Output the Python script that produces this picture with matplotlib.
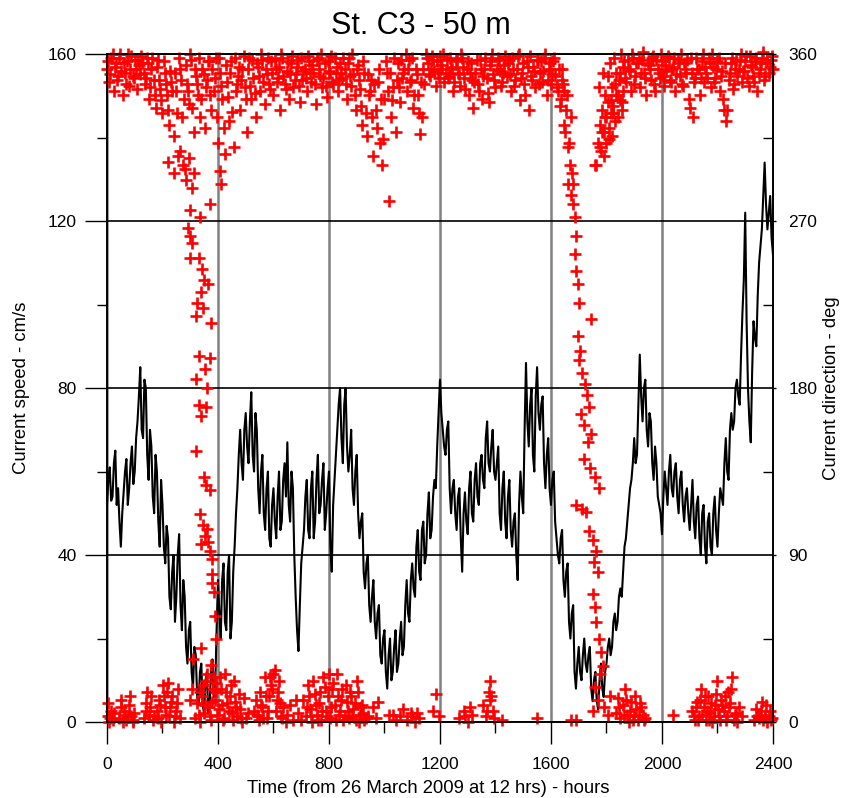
import numpy as np
import matplotlib.pyplot as plt
from matplotlib.ticker import FixedLocator

plt.rcParams['font.family'] = ['Liberation Sans', 'DejaVu Sans']

# current speed (cm/s) at 0, 10, 20 ... hours
speed_hours = np.arange(0, 2401, 10)
speed = [
    52, 61, 54, 65, 56, 42, 55, 63, 56, 66,
    60, 72, 85, 68, 80, 58, 66, 50, 60, 42,
    52, 38, 44, 27, 40, 30, 45, 22, 30, 14,
    24, 8, 16, 4, 14, 2, 12, 4, 15, 8,
    34, 20, 38, 22, 40, 24, 42, 56, 70, 58,
    74, 62, 79, 60, 70, 50, 64, 46, 60, 42,
    56, 44, 60, 48, 62, 67, 48, 56, 30, 17,
    38, 46, 58, 44, 60, 48, 64, 52, 62, 50,
    60, 36, 58, 70, 80, 62, 80, 60, 70, 52,
    64, 44, 50, 32, 40, 24, 34, 20, 28, 14,
    22, 8, 20, 12, 22, 14, 24, 18, 34, 24,
    38, 30, 46, 34, 48, 40, 55, 46, 58, 66,
    82, 70, 64, 72, 50, 58, 46, 56, 36, 55,
    45, 60, 48, 62, 52, 64, 56, 72, 60, 70,
    58, 66, 46, 60, 44, 58, 42, 50, 34, 60,
    50, 86, 66, 80, 60, 85, 70, 78, 56, 68,
    52, 60, 44, 38, 46, 30, 38, 20, 28, 8,
    18, 10, 20, 12, 18, 5, 12, 3, 14, 6,
    14, 20, 18, 26, 24, 32, 36, 44, 52, 58,
    68, 64, 88, 72, 82, 66, 72, 58, 62, 52,
    45, 60, 52, 64, 54, 62, 50, 60, 48, 56,
    46, 58, 44, 54, 40, 52, 38, 50, 40, 54,
    42, 56, 52, 68, 58, 74, 72, 82, 76, 98,
    122, 80, 67, 96, 90, 110, 118, 134, 118, 126,
    112,
]
# and at 5, 15, 25 ... hours
speed_hours_mid = np.arange(5, 2400, 10)
speed_mid = [
    58, 53, 62, 52, 48, 50, 60, 52, 62, 57,
    68, 78, 70, 82, 64, 70, 54, 64, 48, 58,
    42, 47, 30, 36, 24, 40, 28, 34, 18, 22,
    12, 18, 6, 12, 4, 10, 2, 12, 6, 22,
    26, 34, 24, 36, 20, 36, 50, 64, 62, 70,
    66, 72, 64, 74, 56, 60, 50, 56, 44, 52,
    48, 54, 46, 58, 54, 52, 60, 40, 22, 28,
    42, 54, 46, 56, 44, 58, 50, 58, 46, 56,
    42, 52, 64, 76, 68, 76, 66, 64, 56, 60,
    50, 48, 36, 38, 28, 30, 24, 26, 16, 20,
    12, 16, 10, 18, 12, 20, 16, 28, 26, 34,
    32, 42, 36, 46, 38, 50, 44, 54, 56, 74,
    74, 66, 70, 56, 56, 50, 54, 44, 50, 48,
    56, 50, 58, 54, 62, 58, 68, 62, 66, 60,
    62, 50, 56, 48, 54, 46, 48, 40, 52, 54,
    70, 72, 76, 64, 78, 74, 76, 62, 64, 56,
    58, 48, 40, 44, 34, 36, 24, 26, 12, 14,
    12, 16, 14, 16, 8, 10, 5, 10, 8, 12,
    18, 16, 24, 22, 30, 30, 42, 48, 56, 62,
    62, 76, 78, 80, 70, 74, 62, 66, 54, 50,
    54, 56, 60, 56, 60, 54, 58, 52, 54, 50,
    52, 48, 52, 44, 50, 42, 48, 42, 50, 46,
    50, 54, 62, 60, 70, 70, 80, 78, 88, 106,
    96, 72, 84, 92, 102, 114, 126, 124, 122, 116,
]

# direction near north (deg), at 0, 8, 16 ... hours
nan = np.nan
north_hours = np.arange(0, 2401, 8)
north_deg = [
    352, 345, 358, 340, 355, 348, 360, 338, 350, 356, 343, 359, 347, 352, 357,
    349, 355, 344, 358, 336, 352, 346, 331, 357, 341, 328, 350, 338, 322, 345,
    316, 340, 305, 352, 326, 298, 344, 333, 357, 318, 348, 338, 326, 352, 320,
    346, 356, 330, 340, 358, 312, 350, 336, 306, 345, 324, 356, 310, 340, 348,
    330, 352, 342, 318, 358, 336, 347, 326, 353, 340, 357, 333, 349, 344, 356,
    338, 352, 347, 330, 358, 344, 351, 336, 355, 342, 349, 357, 334, 346, 352,
    340, 356, 345, 350, 333, 358, 348, 342, 355, 337, 351, 359, 344, 350, 340,
    355, 347, 352, 336, 358, 343, 349, 330, 354, 341, 322, 350, 316, 338, 346,
    305, 330, 345, 312, 300, 336, 350, 281, 326, 342, 318, 355, 334, 347, 352,
    340, 357, 346, 331, 352, 338, 317, 326, 344, 358, 349, 352, 357, 343, 350,
    359, 352, 345, 357, 348, 353, 340, 356, 350, 343, 358, 347, 352, 338, 355,
    331, 350, 344, 357, 336, 352, 347, 334, 356, 349, 342, 358, 351, 345, 354,
    348, 357, 340, 352, 346, 359, 335, 350, 344, 356, 330, 348, 353, 342, 357,
    350, 345, 358, 338, 352, 344, 356, 348, 340, 332, 346, 322, 338, 312, 326,
    290, nan, nan, nan, nan, nan, nan, nan, nan, nan, 300, nan, 310, 318, 305,
    326, 314, 335, 328, 344, 338, 350, 334, 356, 345, 352, 340, 358, 348, 355,
    342, 357, 350, 338, 354, 346, 359, 340, 352, 347, 356, 343, 351, 358, 345,
    353, 340, 357, 348, 344, 355, 350, 336, 358, 326, 347, 352, 338, 356, 345,
    350, 358, 342, 353, 347, 356, 340, 351, 330, 324, 346, 355, 341, 352, 348,
    357, 345, 351, 359, 343, 354, 348, 356, 340, 352, 358, 346, 355, 350, 357,
    352,
]
# and at 4, 12, 20 ... hours
north_hours_mid = np.arange(4, 2400, 8)
north_deg_mid = [
    356, 349, 360, 353, 346, 358, 351, 355, 344, 360, 352, 348, 357, 341, 354,
    359, 350, 347, 355, 342, 358, 338, 353, 346, 335, 356, 344, 330, 351, 340,
    350, 328, 358, 346, 336, 354, 340, 360, 331, 352, 344, 358, 336, 349, 342,
    356, 338, 352, 347, 326, 358, 343, 320, 354, 337, 350, 329, 358, 344, 353,
    346, 359, 336, 352, 343, 357, 339, 355, 348, 360, 345, 352, 358, 341, 350,
    357, 345, 353, 360, 348, 341, 356, 350, 359, 346, 353, 343, 358, 351, 347,
    359, 350, 354, 344, 357, 352, 360, 347, 343, 356, 350, 345, 358, 353, 346,
    350, 358, 344, 355, 348, 360, 338, 352, 346, 332, 356, 328, 349, 340, 326,
    344, 320, 352, 336, 314, 356, 340, 350, 335, 358, 346, 342, 357, 350, 360,
    352, 345, 358, 338, 349, 328, 345, 352, 360, 355, 348, 359, 351, 356, 347,
    354, 360, 350, 347, 358, 352, 345, 357, 349, 360, 353, 341, 356, 350, 346,
    345, 357, 340, 352, 348, 358, 339, 354, 360, 346, 352, 357, 343, 350, 359,
    355, 349, 358, 343, 352, 360, 347, 355, 338, 353, 359, 346, 351, 357, 344,
    356, 351, 360, 346, 355, 349, 358, 342, 352, 336, 344, nan, nan, nan, nan,
    nan, nan, nan, nan, nan, nan, nan, nan, nan, nan, nan, 342, nan, 350, 338,
    348, 355, 342, 358, 350, 346, 360, 353, 347, 357, 351, 360, 344, 355, 358,
    350, 361, 347, 355, 352, 358, 344, 357, 350, 360, 348, 354, 359, 346, 352,
    358, 349, 355, 360, 343, 352, 357, 331, 350, 345, 358, 352, 347, 360, 353,
    347, 355, 360, 345, 352, 358, 348, 336, 355, 330, 350, 358, 344, 356, 352,
    360, 351, 356, 347, 359, 353, 345, 358, 350, 355, 361, 348, 357, 353, 359,
]

# first veering (around 200-400 h)
veer1_hours = [220, 240, 262, 275, 285, 295, 305, 315, 300, 292, 300, 308, 298, 335,
               372, 408, 412, 330, 342, 350, 338, 365, 325, 345, 320, 376, 333, 372,
               352, 320, 362, 330, 356, 340, 322, 350, 358, 370, 336, 345, 360, 352,
               365, 340, 372, 378, 380, 378, 385, 390, 392, 310, 340, 376, 334, 394]
veer1_deg = [302, 296, 308, 300, 292, 304, 288, 296, 276, 266, 262, 258, 250, 272,
             279, 297, 290, 250, 244, 238, 232, 236, 226, 223, 219, 215, 197, 196,
             190, 185, 180, 171, 170, 165, 146, 132, 128, 125, 112, 106, 104, 100,
             97, 96, 92, 88, 80, 75, 70, 57, 45, 34, 40, 31, 16, 21]

# second veering (around 1600-1860 h)
veer2_hours = [1640, 1648, 1655, 1650, 1660, 1668, 1675, 1662, 1672, 1680, 1685, 1690,
               1688, 1692, 1698, 1702, 1746, 1696, 1704, 1700, 1712, 1722, 1730, 1738,
               1710, 1720, 1745, 1732, 1718, 1740, 1760, 1772, 1690, 1712, 1728, 1738,
               1750, 1762, 1755, 1768, 1750, 1760, 1764, 1772, 1780, 1786, 1775, 1760,
               1770, 1790, 1805, 1812, 1752,
               1762, 1770, 1775, 1780, 1785, 1790, 1795, 1800, 1805, 1810, 1815, 1820,
               1825, 1830, 1835, 1840, 1848, 1855, 1860]
veer2_deg = [352, 340, 330, 318, 310, 300, 296, 290, 284, 279, 272, 262,
             252, 243, 236, 226, 217, 208, 200, 195, 188, 182, 176, 170,
             166, 160, 155, 151, 142, 137, 132, 126, 117, 115, 113, 103,
             98, 92, 86, 81, 69, 62, 54, 45, 38, 30, 26, 19,
             12, 8, 4, 14, 6,
             300, 312, 322, 308, 330, 318, 326, 312, 334, 320, 328, 316,
             332, 324, 338, 326, 335, 330, 340]

# direction just east of north (deg)
east_hours = [2, 8, 14, 20, 45, 52, 58, 64, 70, 78, 86, 92, 98,
              135, 142, 150, 158, 165, 180, 188, 195, 202, 210, 216, 224, 232, 240, 248, 256, 264,
              318, 326, 334, 342, 350, 358, 366, 374, 382, 390, 398, 406, 414, 422, 430, 438,
              446, 454, 462, 470, 478, 486, 494, 502, 510,
              540, 548, 556, 564, 572, 580, 588, 596, 604, 612, 620, 628, 636, 644,
              690, 700, 708, 716, 724, 732, 740, 748, 756, 764, 772, 780, 788, 796, 804, 812,
              820, 828, 836, 844, 852, 860, 868, 876, 884, 892, 900, 908, 916, 924, 932,
              960, 975, 1017, 1055, 1068, 1080, 1095, 1110, 1125, 1175, 1185, 1195, 1270, 1285,
              1300, 1315, 1355, 1365, 1375, 1380, 1380, 1390, 1425, 1550,
              1672, 1690, 1835, 1842, 1850, 1858, 1866, 1874, 1882, 1890, 1898, 1906, 1914,
              1922, 1930, 1940,
              2040, 2110, 2118, 2126, 2134, 2142, 2150, 2158, 2166, 2174, 2182, 2190, 2198,
              2206, 2214, 2222, 2230, 2238, 2246, 2254, 2262, 2270, 2278, 2290, 2330, 2340,
              2350, 2360, 2370, 2380, 2390, 2398,
              5, 12, 25, 50, 62, 74, 82, 95, 140, 146, 155, 170, 184, 192, 206, 212, 220,
              228, 236, 244, 252, 300, 306, 330, 346, 354, 362, 370, 378, 386, 394, 402,
              410, 418, 426, 434, 442, 450, 458, 466, 474, 482, 530, 536, 544, 552, 560,
              568, 576, 584, 592, 600, 608, 616, 624, 632, 650, 660, 670, 680, 720, 728,
              736, 744, 752, 760, 768, 776, 784, 792, 800, 808, 816, 824, 832, 840, 848,
              856, 864, 872, 880, 888, 896, 904, 912, 920, 928, 940, 968, 1030, 1040,
              1100, 1118, 1290, 1310, 1370, 1384, 1395, 1845, 1862, 1870, 1886, 1894,
              1902, 1918, 1926, 1934, 2114, 2122, 2130, 2138, 2146, 2154, 2162, 2170,
              2178, 2186, 2194, 2202, 2210, 2218, 2226, 2234, 2242, 2250, 2258, 2266,
              2342, 2356, 2364, 2376, 2386, 2394]
east_deg = [3, 0, 6, 1, 2, 8, 0, 4, 1, 9, 3, 0, 5,
            2, 10, 4, 14, 1, 6, 12, 0, 20, 8, 16, 3, 11, 0, 6, 18, 2,
            2, 10, 0, 14, 5, 22, 8, 1, 18, 12, 4, 24, 9, 2, 16, 6,
            20, 1, 11, 3, 7, 0, 13, 2, 5,
            4, 1, 9, 2, 14, 6, 24, 18, 28, 12, 22, 3, 8, 0,
            5, 1, 12, 3, 20, 7, 0, 15, 4, 10, 1, 24, 6, 14, 2, 18,
            9, 26, 4, 12, 1, 20, 6, 16, 3, 10, 22, 0, 8, 5, 2,
            8, 11, 4, 3, 7, 1, 5, 0, 2, 6, 15, 3, 2, 6,
            0, 4, 9, 3, 16, 12, 22, 6, 1, 2,
            1, 1, 5, 13, 2, 9, 18, 4, 0, 11, 3, 7, 1,
            10, 4, 2,
            4, 6, 1, 11, 3, 18, 8, 1, 14, 5, 0, 9, 22,
            3, 12, 6, 1, 16, 10, 24, 4, 0, 8, 3, 1, 7,
            2, 11, 4, 0, 6, 2,
            10, 2, 5, 12, 6, 3, 14, 1, 6, 16, 8, 3, 2, 9, 14, 4, 21,
            8, 14, 3, 10, 12, 18, 4, 20, 9, 26, 3, 11, 24, 16, 7,
            18, 1, 26, 10, 14, 5, 22, 8, 15, 2, 6, 12, 3, 16, 8,
            24, 2, 14, 20, 26, 6, 16, 10, 2, 4, 9, 1, 12, 8, 14,
            3, 22, 9, 1, 16, 6, 19, 3, 26, 8, 21, 1, 14, 6, 18,
            3, 11, 2, 14, 7, 1, 16, 4, 9, 1, 3, 2, 4, 1,
            3, 5, 3, 8, 6, 14, 2, 8, 4, 12, 6, 1,
            14, 3, 8, 1, 3, 8, 1, 12, 4, 14, 6, 1,
            10, 3, 15, 7, 1, 9, 14, 3, 8, 18, 1, 5,
            3, 6, 1, 9, 3, 1]

all_speed_hours = np.concatenate([speed_hours, speed_hours_mid])
all_speed = np.concatenate([speed, speed_mid])
order = np.argsort(all_speed_hours)

fig = plt.figure(figsize=(8.41, 7.98), dpi=100)
ax = fig.add_axes([0.1272, 0.0952, 0.7919, 0.8371])

ax.plot(all_speed_hours[order], all_speed[order], color='black', lw=1.5, zorder=3)
ax.set_xlim(0, 2400)
ax.set_ylim(0, 160)
ax.set_xticks(range(0, 2401, 400))
ax.xaxis.set_minor_locator(FixedLocator(range(200, 2400, 400)))
ax.set_yticks(range(0, 161, 40))
ax.yaxis.set_minor_locator(FixedLocator(range(20, 160, 40)))
ax.grid(axis='y', which='major', color='black', lw=1.2)
ax.grid(axis='x', which='major', color='#808080', lw=1.8)
ax.tick_params(axis='x', which='major', length=16, width=1, pad=9, labelsize=12.5)
ax.tick_params(axis='x', which='minor', length=8, width=1)
ax.tick_params(axis='y', which='major', length=16, width=1, pad=6, labelsize=12.5)
ax.tick_params(axis='y', which='minor', length=7, width=1)

ax2 = ax.twinx()
ax2.set_ylim(0, 360)
ax2.set_yticks(range(0, 361, 90))
ax2.yaxis.set_minor_locator(FixedLocator(range(45, 360, 90)))
ax2.tick_params(axis='y', which='major', length=2, width=1, pad=9, labelsize=12.5)
ax2.tick_params(axis='y', which='minor', length=7, width=1, direction='in')

mk = dict(ls='none', marker='+', ms=8, mew=1.9, color='red', clip_on=False)
ax2.plot(north_hours, north_deg, **mk)
ax2.plot(north_hours_mid, north_deg_mid, **mk)
ax2.plot(veer1_hours, veer1_deg, **mk)
ax2.plot(veer2_hours, veer2_deg, **mk)
ax2.plot(east_hours, east_deg, **mk)

for a in (ax, ax2):
    for s in a.spines.values():
        s.set_color('black')
        s.set_linewidth(1.2)

fig.text(0.5, 0.967, 'St. C3 - 50 m', ha='center', va='center', fontsize=22)
fig.text(0.509, 0.0125, 'Time (from 26 March 2009 at 12 hrs) - hours',
         ha='center', va='center', fontsize=13.3)
fig.text(0.025, 0.514, 'Current speed - cm/s', rotation=90,
         ha='center', va='center', fontsize=13.3)
fig.text(0.989, 0.514, 'Current direction - deg', rotation=90,
         ha='center', va='center', fontsize=13.3)

fig.savefig('out.png', dpi=100)
